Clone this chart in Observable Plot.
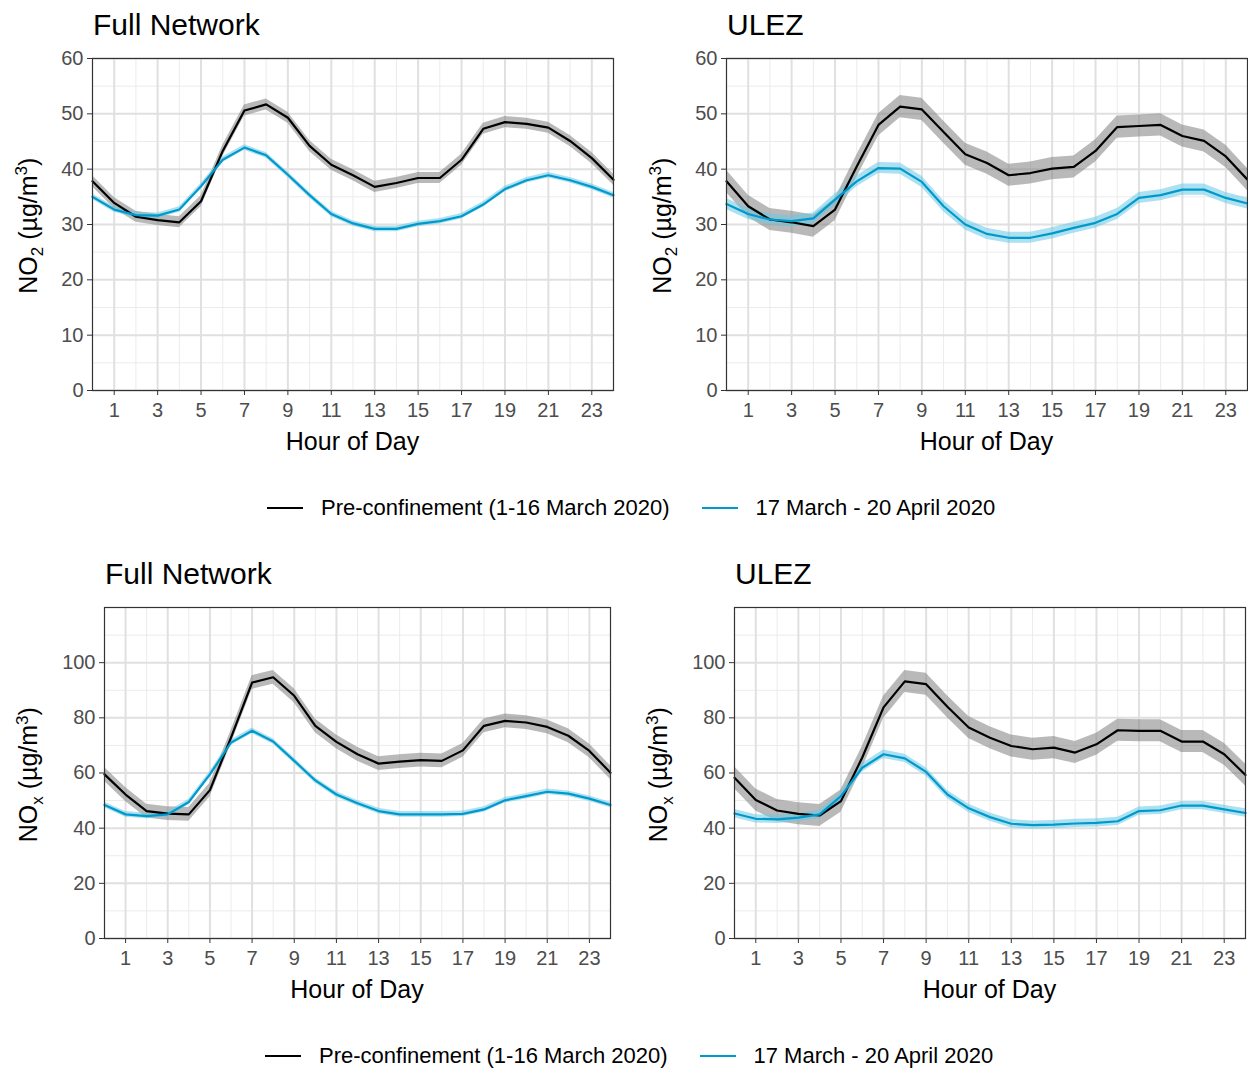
<!DOCTYPE html>
<html><head><meta charset="utf-8">
<script src="https://cdn.jsdelivr.net/npm/d3@7"></script>
<script src="https://cdn.jsdelivr.net/npm/@observablehq/plot@0.6"></script>
<style>
body{margin:0;background:#fff;font-family:Arial,"Liberation Sans",sans-serif;}
#root{position:relative;width:1248px;height:1073px;}
.abs{position:absolute;}
.title{font-size:30px;color:#000;}
.xlab{font-size:25px;color:#000;text-align:center;}
.ylab{font-size:25px;color:#000;transform:rotate(-90deg);transform-origin:center;white-space:nowrap;text-align:center;}
.leg{font-size:22px;color:#000;display:flex;align-items:center;white-space:nowrap;}
.sw{display:inline-block;width:36px;height:2.5px;margin:0 18px 0 0;}
</style></head><body><div id="root"></div>
<script>
const hours = d3.range(0,25);
const seriesNames = ["Pre-confinement (1-16 March 2020)","17 March - 20 April 2020"];
const colors = ["#000000","#0099cc"];
const bandColors = ["#7f7f7f","#66c8e6"];
// NO2 Full network
const no2FullPre = [37.8,33.9,31.4,30.8,30.4,34.2,43.3,50.6,51.7,49.3,44.2,40.8,38.9,36.8,37.5,38.4,38.4,41.7,47.3,48.5,48.2,47.5,45.1,42.0,38.1];
const no2FullPost = [35.0,32.7,31.7,31.6,32.7,36.9,41.7,43.9,42.5,39.0,35.3,31.9,30.2,29.2,29.2,30.1,30.6,31.5,33.6,36.4,38.0,38.9,38.0,36.8,35.3];
// NO2 ULEZ
const no2UlezPre = [37.8,33.3,30.9,30.4,29.7,32.7,40.5,48.0,51.3,50.8,46.7,42.7,41.1,38.9,39.3,40.1,40.4,43.3,47.6,47.8,48.0,46.0,45.1,42.3,38.1];
const no2UlezPost = [33.7,31.9,30.9,30.6,31.1,34.5,37.8,40.2,40.1,37.7,33.3,30.0,28.3,27.6,27.6,28.4,29.4,30.3,31.9,34.8,35.3,36.3,36.3,34.8,33.8];
// NOx Full network
const noxFullPre = [59.5,52.2,46.2,45.3,45.0,53.8,72.8,92.8,94.7,88.0,77.1,71.3,66.8,63.4,64.1,64.7,64.4,68.2,77.1,78.9,78.3,76.7,73.5,68.0,60.1];
const noxFullPost = [48.4,45.0,44.4,45.0,49.5,59.5,71.0,75.3,71.4,64.4,57.3,52.2,49.0,46.2,45.0,45.0,45.0,45.2,46.8,50.1,51.6,53.2,52.5,50.7,48.4];
// NOx ULEZ
const noxUlezPre = [58.3,50.2,46.4,45.2,44.6,49.8,65.6,83.8,93.2,92.2,84.0,76.5,72.8,69.8,68.6,69.2,67.4,70.4,75.5,75.3,75.3,71.4,71.4,66.8,59.3];
const noxUlezPost = [45.3,43.4,43.2,43.8,45.0,51.6,61.9,66.8,65.3,60.4,52.2,47.2,44.0,41.6,41.1,41.3,41.7,41.9,42.5,46.2,46.5,48.2,48.2,46.8,45.5];
// band half-widths (confidence interval)
const halfNo2Full = [1.0,0.5];
const halfNo2Ulez = [2.0,1.0];
const halfNoxFull = [2.5,1.0];
const halfNoxUlez = [4.0,1.5];
const xTicks = [1,3,5,7,9,11,13,15,17,19,21,23];
const xMinor = [0,2,4,6,8,10,12,14,16,18,20,22,24];

const root = document.getElementById("root");
function add(html, cls, style){const d=document.createElement("div");d.className="abs "+cls;d.innerHTML=html;Object.assign(d.style,style);root.appendChild(d);return d;}

function panel(o){
  const rows=[];
  [o.pre,o.post].forEach((arr,s)=>hours.forEach((h,i)=>rows.push({h,v:arr[i],lo:arr[i]-o.half[s],hi:arr[i]+o.half[s],s})));
  const yMinor = d3.range(o.ymin+o.ystep/2, o.ymax, o.ystep);
  const svg = Plot.plot({
    width:o.w,height:o.h,marginLeft:o.ml,marginRight:o.mr,marginTop:o.mt,marginBottom:o.mb,
    style:{fontSize:"20px",fontFamily:"Arial, 'Liberation Sans', sans-serif",color:"#4d4d4d",background:"transparent",overflow:"visible"},
    x:{domain:[0,24],label:null},
    y:{domain:[o.ymin,o.ymax],label:null},
    marks:[
      Plot.ruleX(xMinor,{stroke:"#ebebeb",strokeWidth:1}),
      Plot.ruleY(yMinor,{stroke:"#ebebeb",strokeWidth:1}),
      Plot.ruleX(xTicks,{stroke:"#e0e0e0",strokeWidth:2}),
      Plot.ruleY(o.yTicks,{stroke:"#e0e0e0",strokeWidth:2}),
      Plot.areaY(rows,{x:"h",y1:"lo",y2:"hi",z:"s",fill:d=>bandColors[d.s],fillOpacity:0.55}),
      Plot.lineY(rows,{x:"h",y:"v",z:"s",stroke:d=>colors[d.s],strokeWidth:2.2}),
      Plot.frame({stroke:"#333",strokeWidth:1.2}),
      Plot.axisX({ticks:xTicks,tickSize:5,tickPadding:7,fill:"#4d4d4d",stroke:"#333",label:null}),
      Plot.axisY({ticks:o.yTicks,tickSize:5,tickPadding:4,fill:"#4d4d4d",stroke:"#333",label:null})
    ]
  });
  svg.style.position="absolute";svg.style.left=o.x+"px";svg.style.top=o.y+"px";
  root.appendChild(svg);
  add(o.title,"title",{left:(o.x+o.ml+1)+"px",top:(o.y+o.mt-50)+"px"});
  add("Hour of Day","xlab",{left:(o.x+o.ml)+"px",width:(o.w-o.ml-o.mr)+"px",top:(o.y+o.h-o.mb+37)+"px"});
  const ph=o.h-o.mt-o.mb;
  add(o.ylab,"ylab",{left:(o.x+o.ylx-ph/2)+"px",width:ph+"px",top:(o.y+o.mt+ph/2-16)+"px"});
}
const no2Lab='NO<sub style="font-size:17px">2</sub> (µg/m<sup style="font-size:17px">3</sup>)';
const noxLab='NO<sub style="font-size:17px">x</sub> (µg/m<sup style="font-size:17px">3</sup>)';
const tk60=[0,10,20,30,40,50,60], tk100=[0,20,40,60,80,100];
panel({x:0,y:38,w:625,h:432,ml:92,mr:12,mt:20,mb:80,ymin:0,ymax:60,ystep:10,yTicks:tk60,pre:no2FullPre,post:no2FullPost,half:halfNo2Full,title:"Full Network",ylab:no2Lab,ylx:30});
panel({x:634,y:38,w:614,h:432,ml:92,mr:1,mt:20,mb:80,ymin:0,ymax:60,ystep:10,yTicks:tk60,pre:no2UlezPre,post:no2UlezPost,half:halfNo2Ulez,title:"ULEZ",ylab:no2Lab,ylx:30});
panel({x:0,y:587,w:622,h:431,ml:104,mr:12,mt:20,mb:80,ymin:0,ymax:120,ystep:20,yTicks:tk100,pre:noxFullPre,post:noxFullPost,half:halfNoxFull,title:"Full Network",ylab:noxLab,ylx:30});
panel({x:630,y:587,w:617,h:431,ml:104,mr:2,mt:20,mb:80,ymin:0,ymax:120,ystep:20,yTicks:tk100,pre:noxUlezPre,post:noxUlezPost,half:halfNoxUlez,title:"ULEZ",ylab:noxLab,ylx:30});

function legend(left,top){
  const d=add("","leg",{left:left+"px",top:top+"px"});
  seriesNames.forEach((n,i)=>{
    const s=document.createElement("span");s.className="sw";s.style.background=colors[i];d.appendChild(s);
    const t=document.createElement("span");t.textContent=n;t.style.marginRight=i==0?"32px":"0";d.appendChild(t);
  });
}
legend(267,495);legend(265,1043);
</script></body></html>
